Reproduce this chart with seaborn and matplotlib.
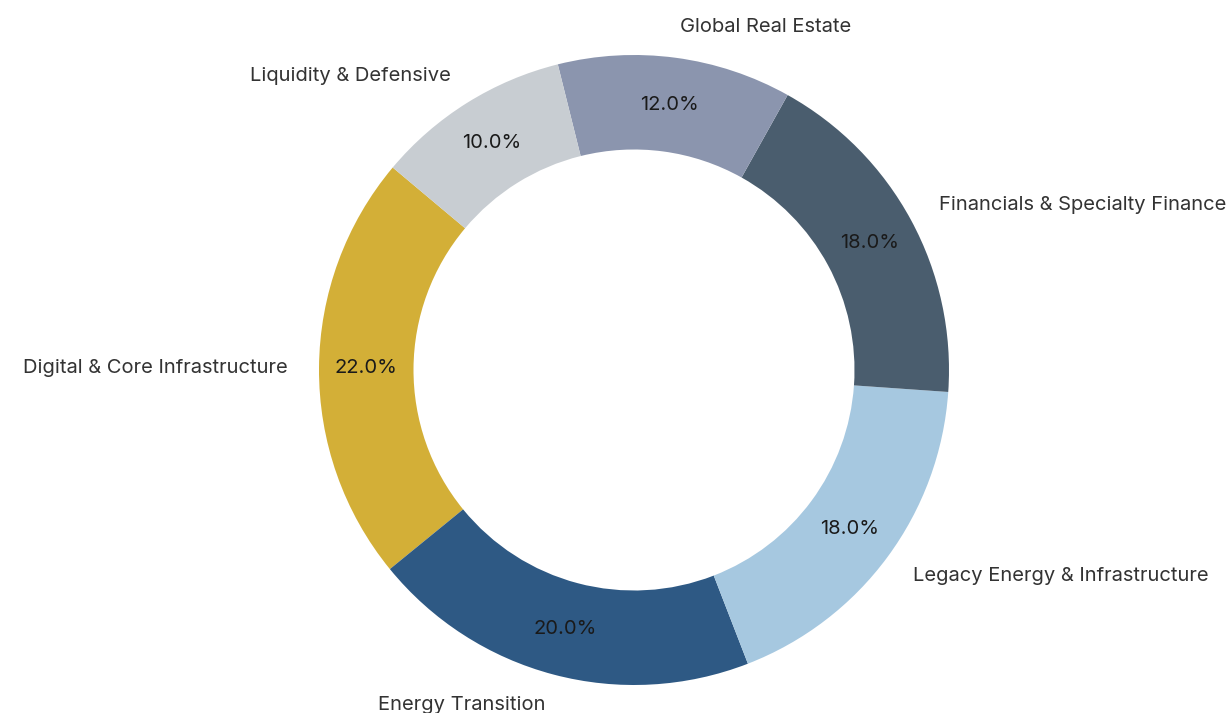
import matplotlib
matplotlib.use("Agg")
import matplotlib.pyplot as plt
import seaborn as sns

categories = ["Digital & Core Infrastructure", "Energy Transition",
              "Legacy Energy & Infrastructure", "Financials & Specialty Finance",
              "Global Real Estate", "Liquidity & Defensive"]
values = [22, 20, 18, 18, 12, 10]
colors = ["#D3AF37", "#2E5984", "#A6C8E0", "#4A5D6E", "#8B95AE", "#C8CDD2"]

sns.set_theme(style="white")
plt.rcParams['font.family'] = ['Inter', 'DejaVu Sans']

fig = plt.figure(figsize=(12.3, 7.13), dpi=100)
ax = fig.add_axes([0, 0, 1, 1])

wedges, texts, autotexts = ax.pie(
    values, labels=categories, colors=colors, startangle=140,
    autopct="%1.1f%%", pctdistance=0.85, labeldistance=1.1,
    wedgeprops=dict(width=0.3, edgecolor="white", linewidth=0),
    textprops=dict(fontsize=14.5, color="#333333"))
for t in autotexts:
    t.set_color("#1a1a1a")
    t.set_fontsize(14.5)

scale = 315.0
cx, cy = 634.0, 370.0
ax.set_aspect("auto")
ax.set_xlim(-cx / scale, (1230 - cx) / scale)
ax.set_ylim(-(713 - cy) / scale, cy / scale)
ax.axis("off")

fig.savefig("out.png", dpi=100)
